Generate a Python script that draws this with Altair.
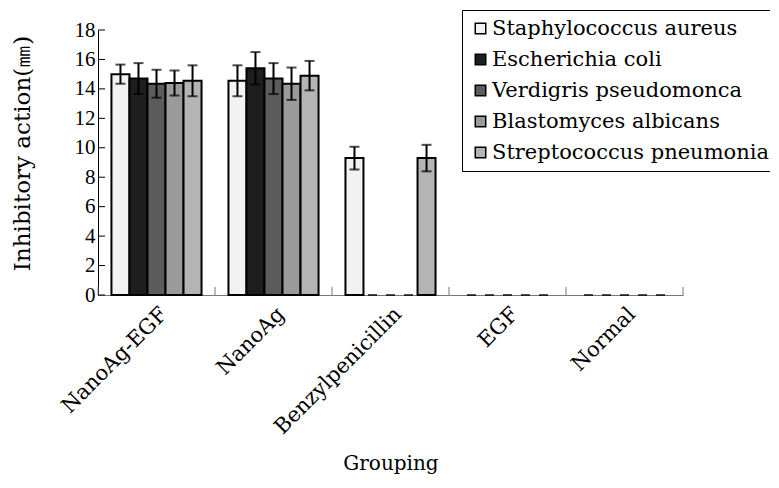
import altair as alt
import pandas as pd

groups = ["NanoAg-EGF", "NanoAg", "Benzylpenicillin", "EGF", "Normal"]
species = ["Staphylococcus aureus", "Escherichia coli", "Verdigris pseudomonca",
           "Blastomyces albicans", "Streptococcus pneumonia"]

staph = [15.0, 14.55, 9.3, 0, 0]
ecoli = [14.7, 15.4, 0, 0, 0]
verd = [14.35, 14.7, 0, 0, 0]
blast = [14.4, 14.35, 0, 0, 0]
strep = [14.55, 14.9, 9.3, 0, 0]

staph_err = [0.65, 1.05, 0.77, 0, 0]
ecoli_err = [1.05, 1.1, 0, 0, 0]
verd_err = [0.95, 1.05, 0, 0, 0]
blast_err = [0.85, 1.1, 0, 0, 0]
strep_err = [1.05, 1.0, 0.9, 0, 0]

y_ticks = [0, 2, 4, 6, 8, 10, 12, 14, 16, 18]
fills = ["#f2f2f2", "#1e1e1e", "#5c5c5c", "#9a9a9a", "#b4b4b4"]

means = [staph, ecoli, verd, blast, strep]
errs = [staph_err, ecoli_err, verd_err, blast_err, strep_err]
rows = []
for sp, vals, ers in zip(species, means, errs):
    for g, v, e in zip(groups, vals, ers):
        rows.append({"group": g, "species": sp, "value": v, "lo": v - e, "hi": v + e})
df = pd.DataFrame(rows)
ticks_df = pd.DataFrame({"t": y_ticks})
groups_df = pd.DataFrame({"group": groups})
last_df = pd.DataFrame({"group": groups[-1:]})

W, H = 585, 265
STEP = 117
TXT = "DejaVu Serif"

x_scale = alt.Scale(domain=groups, paddingInner=0.23, paddingOuter=0.115)
x_axis = alt.Axis(labelAngle=-45, labelFont=TXT, labelFontSize=21,
                  labelColor="black", ticks=False, domainColor="#777777", domainWidth=1,
                  labelPadding=8, title="Grouping", titleFont=TXT,
                  titleFontSize=20, titleFontWeight="normal", titleColor="black",
                  titleY=168, titleBaseline="middle", labelLimit=0)
x_enc = alt.X("group:N", scale=x_scale, axis=x_axis, sort=groups)
xo_enc = alt.XOffset("species:N", sort=species,
                     scale=alt.Scale(domain=species, paddingInner=0, paddingOuter=0))
y_scale = alt.Scale(domain=[0, 18], nice=False)
y_axis = alt.Axis(values=y_ticks, labelFont="Liberation Serif", labelFontSize=21,
                  labelColor="black", ticks=False, domainColor="black", domainWidth=1,
                  labelPadding=3, grid=False, title="Inhibitory action(㎜)",
                  titleFont=TXT, titleFontSize=23, titleFontWeight="normal",
                  titleColor="black", titleX=-76, titleY=123, titleAngle=270,
                  titleAlign="center", titleBaseline="middle")

color = alt.Color("species:N", sort=species,
                  scale=alt.Scale(domain=species, range=fills),
                  legend=alt.Legend(orient="none", legendX=364, legendY=-20, title=None,
                                    strokeColor="black", fillColor="white", padding=8,
                                    labelFont=TXT, labelFontSize=21,
                                    labelColor="black", labelLimit=0, symbolType="square",
                                    symbolSize=110, symbolStrokeColor="black",
                                    symbolStrokeWidth=1.5, rowPadding=9, labelOffset=1))

bars = alt.Chart(df).transform_filter("datum.value > 0").mark_bar(
    stroke="black", strokeWidth=2).encode(
    x=x_enc, xOffset=xo_enc,
    y=alt.Y("value:Q", scale=y_scale, axis=y_axis),
    color=color)

zeros = alt.Chart(df).transform_filter("datum.value == 0").mark_tick(
    color="black", thickness=2, size=9).encode(
    x=x_enc, xOffset=xo_enc, y=alt.Y("value:Q", scale=y_scale, axis=y_axis))

err_rule = alt.Chart(df).transform_filter("datum.value > 0").mark_rule(
    color="black", strokeWidth=2).encode(
    x=x_enc, xOffset=xo_enc, y=alt.Y("lo:Q", scale=y_scale, axis=y_axis), y2="hi:Q")

cap_hi = alt.Chart(df).transform_filter("datum.value > 0").mark_tick(
    color="black", thickness=2, size=10).encode(
    x=x_enc, xOffset=xo_enc, y=alt.Y("hi:Q", scale=y_scale, axis=y_axis))
cap_lo = alt.Chart(df).transform_filter("datum.value > 0").mark_tick(
    color="black", thickness=2, size=10).encode(
    x=x_enc, xOffset=xo_enc, y=alt.Y("lo:Q", scale=y_scale, axis=y_axis))

ytick_rules = alt.Chart(ticks_df).mark_rule(color="black", strokeWidth=1).encode(
    y=alt.Y("t:Q", scale=y_scale, axis=y_axis), x=alt.value(0), x2=alt.value(7))

xtick_rules = alt.Chart(groups_df).mark_rule(color="#777777", strokeWidth=1,
                                             xOffset=-STEP / 2).encode(
    x=x_enc, y=alt.value(H), y2=alt.value(H - 8))
xtick_last = alt.Chart(last_df).mark_rule(color="#777777", strokeWidth=1,
                                          xOffset=STEP / 2).encode(
    x=x_enc, y=alt.value(H), y2=alt.value(H - 8))

chart = alt.layer(bars, zeros, err_rule, cap_hi, cap_lo, ytick_rules, xtick_rules,
                  xtick_last).properties(
    width=W, height=H,
    autosize=alt.AutoSizeParams(type="none"),
    padding={"left": 90, "top": 22, "right": 87, "bottom": 183},
    background="white",
).configure(font=TXT).configure_view(stroke=None)

chart.save("out.html", embed_options={"renderer": "svg", "actions": False})
